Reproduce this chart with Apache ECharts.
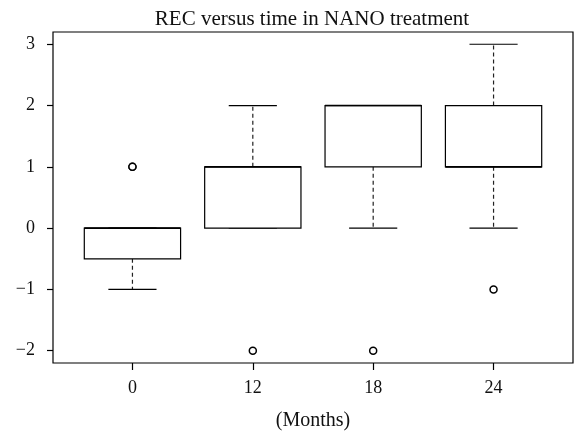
<!DOCTYPE html>
<html>
<head>
<meta charset="utf-8">
<script src="https://cdn.jsdelivr.net/npm/echarts@6/dist/echarts.min.js"></script>
<style>html,body{margin:0;padding:0;background:#fff;}#c{width:574px;height:436px;}</style>
</head>
<body>
<div id="c"></div>
<script>
var categories = ['0', '12', '18', '24'];
var lowerWhisker = [-1, 0, 0, 0];
var q1 = [-0.5, 0, 1, 1];
var median = [0, 1, 2, 1];
var q3 = [0, 1, 2, 2];
var upperWhisker = [0, 2, 2, 3];
// outliers: [group index, value]
var outliers = [[0, 1], [0, 1], [1, -2], [2, -2], [3, -1]];
var yTicks = [-2, -1, 0, 1, 2, 3];

var FONT = 'Liberation Serif';
var boxData = categories.map(function (c, i) {
  return [i + 1, lowerWhisker[i], q1[i], median[i], q3[i], upperWhisker[i]];
});
var outData = outliers.map(function (o) { return [o[0] + 1, o[1]]; });

var chart = echarts.init(document.getElementById('c'), null, {renderer: 'canvas'});
chart.setOption({
  animation: false,
  backgroundColor: '#fff',
  title: {
    text: 'REC versus time in NANO treatment',
    left: 307, top: 4, textAlign: 'center',
    textStyle: {fontFamily: FONT, fontSize: 21, fontWeight: 'normal', color: '#111'}
  },
  grid: {left: 53, right: 1, top: 32, bottom: 72, show: true, borderColor: '#000', borderWidth: 1.2, backgroundColor: 'transparent'},
  xAxis: {
    type: 'value', min: 0.34, max: 4.66,
    splitLine: {show: false},
    axisLine: {show: false, onZero: false},
    axisTick: {show: true, length: 7, customValues: [1, 2, 3, 4], lineStyle: {color: '#000', width: 1.2}},
    axisLabel: {customValues: [1, 2, 3, 4], margin: 16, fontFamily: FONT, fontSize: 18, color: '#111',
      formatter: function (v) { return categories[Math.round(v) - 1]; }},
    name: '(Months)', nameLocation: 'middle', nameGap: 48,
    nameTextStyle: {fontFamily: FONT, fontSize: 20, color: '#111'}
  },
  yAxis: {
    type: 'value', min: -2.2, max: 3.2,
    splitLine: {show: false},
    axisLine: {show: false, onZero: false},
    axisTick: {show: true, length: 6, customValues: yTicks, lineStyle: {color: '#000', width: 1.2}},
    axisLabel: {customValues: yTicks, margin: 18, fontFamily: FONT, fontSize: 18, color: '#111',
      formatter: function (v) { return v < 0 ? '\u2212' + Math.abs(v) : String(v); }}
  },
  series: [
    {
      type: 'custom',
      data: boxData,
      encode: {x: 0, y: [1, 2, 3, 4, 5]},
      renderItem: function (params, api) {
        var x = api.value(0), lo = api.value(1), a = api.value(2), m = api.value(3), b = api.value(4), hi = api.value(5);
        var pL = api.coord([x - 0.4, b]), pR = api.coord([x + 0.4, a]);
        var c = api.coord([x, 0])[0];
        var capL = api.coord([x - 0.2, 0])[0], capR = api.coord([x + 0.2, 0])[0];
        var yLo = api.coord([x, lo])[1], yHi = api.coord([x, hi])[1];
        var yA = pR[1], yB = pL[1], yM = api.coord([x, m])[1];
        var solid = {stroke: '#000', lineWidth: 1.2, fill: null};
        var dash = {stroke: '#222', lineWidth: 1.2, lineDash: [4, 3]};
        var kids = [];
        if (hi > b) kids.push({type: 'line', shape: {x1: c, y1: yB, x2: c, y2: yHi}, style: dash});
        if (lo < a) kids.push({type: 'line', shape: {x1: c, y1: yA, x2: c, y2: yLo}, style: dash});
        kids.push({type: 'line', shape: {x1: capL, y1: yHi, x2: capR, y2: yHi}, style: solid});
        kids.push({type: 'line', shape: {x1: capL, y1: yLo, x2: capR, y2: yLo}, style: solid});
        kids.push({type: 'rect', shape: {x: pL[0], y: yB, width: pR[0] - pL[0], height: yA - yB}, style: {stroke: '#000', lineWidth: 1.2, fill: '#fff'}});
        kids.push({type: 'line', shape: {x1: pL[0], y1: yM, x2: pR[0], y2: yM}, style: {stroke: '#000', lineWidth: 1.6}});
        return {type: 'group', children: kids};
      },
      z: 2
    },
    {
      type: 'scatter',
      data: outData,
      symbol: 'circle', symbolSize: 7,
      itemStyle: {color: '#fff', borderColor: '#000', borderWidth: 1.5, opacity: 1},
      z: 3
    }
  ]
});
</script>
</body>
</html>
